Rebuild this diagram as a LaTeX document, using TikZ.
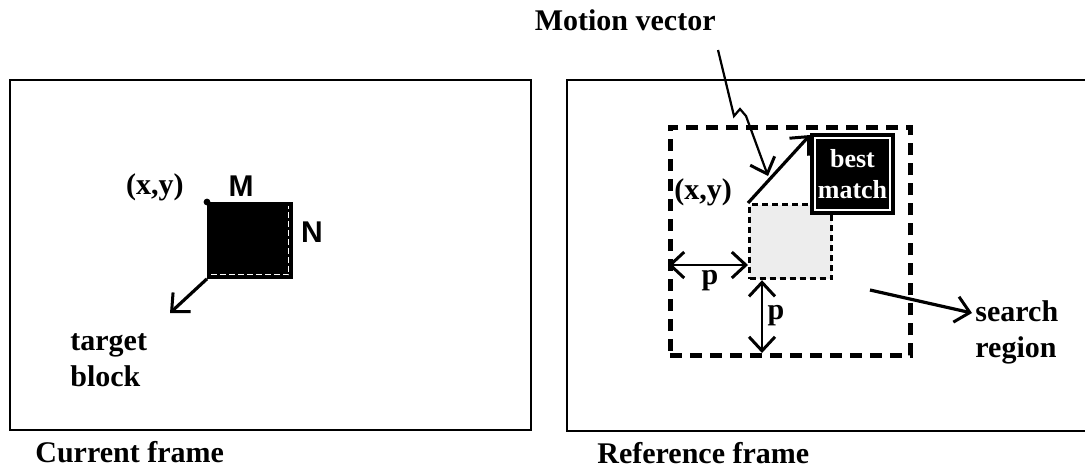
\documentclass[tikz,border=0pt]{standalone}
\usepackage{fontspec}
\setmainfont{Liberation Serif}
\setsansfont{Liberation Sans}
\usetikzlibrary{arrows.meta, positioning, calc}

\tikzset{
  frame/.style={draw, line width=1.4pt},
  lbl/.style={font=\fontsize{15}{18}\selectfont\bfseries, inner sep=0pt},
  sanslbl/.style={font=\fontsize{15}{18}\selectfont\sffamily\bfseries, inner sep=0pt},
  barb/.tip={Straight Barb[length=7pt, width=13pt, line width=1.5pt]},
  pointer/.style={line width=1.6pt, -barb},
  twoway/.style={line width=1.4pt, barb-barb},
  searchbox/.style={draw, line width=2.3pt, dash pattern=on 6pt off 4pt, inner sep=0pt, anchor=north west},
}

\begin{document}
\begin{tikzpicture}[x=0.5pt, y=-0.5pt]

\useasboundingbox (0,0) rectangle (1085,472);

% 1. CURRENT FRAME
\draw[frame] (10,80) rectangle (531,430);
\node[lbl, anchor=west] (curlbl) at (35,452) {Current frame};

% target block
\node[fill=black, draw=black, inner sep=0pt, minimum width=42.5pt, minimum height=38pt, anchor=north west] (tblk) at (207,202) {};
\draw[white, line width=0.4pt, dash pattern=on 3pt off 1.5pt]
  ([shift={(2pt,2pt)}]tblk.south west) -- ([shift={(-2pt,2pt)}]tblk.south east) -- ([shift={(-2pt,-2pt)}]tblk.north east);
\fill (tblk.north west) circle (1.7pt);
\node[lbl, anchor=east] (xyleft) at (184,187) {(x,y)};
\node[sanslbl] (mlbl) at (241,186) {M};
\node[sanslbl] (nlbl) at (312,232) {N};

\coordinate (tgtend) at (170,313);
\draw[pointer] (tblk.south west) -- (tgtend);
\node[lbl, anchor=north west, align=left] (tgtlbl) at (70,333) {target\\block};

% 2. REFERENCE FRAME
\draw[frame] (1090,80) -- (567,80) -- (567,431) -- (1090,431);
\node[lbl, anchor=west] (reflbl) at (597,453) {Reference frame};

% search region
\node[searchbox, minimum width=120pt, minimum height=114pt] (srch) at (668,125) {};

% block at the same place
\node[draw, fill=gray!14, line width=1.6pt, dash pattern=on 3pt off 2pt, inner sep=0pt,
  minimum width=41pt, minimum height=37pt, anchor=north west] (orig) at (748,203) {};

% best match
\node[fill=black, draw=black, line width=1pt, inner sep=0pt, minimum width=41.5pt, minimum height=40pt,
  anchor=north west, text=white, align=center, font=\fontsize{13}{15.5}\selectfont\bfseries] (best) at (810,133) {best\\match};
\draw[white, line width=0.7pt] ([shift={(2.5pt,2.5pt)}]best.south west) rectangle ([shift={(-2.5pt,-2.5pt)}]best.north east);

\node[lbl] (xyright) at (703,192) {(x,y)};

% motion vector
\draw[pointer] (orig.north west) -- ([yshift=-1pt]best.north west);
\node[lbl, anchor=east] (mvlbl) at (716,20) {Motion vector};
\coordinate (mvstart) at (718,50);
\coordinate (mvtip) at (768,176);
\draw[line width=1.1pt, -barb] (mvstart) -- (734,116) -- (740,109) -- (746,116) -- (mvtip);

% the two p
\coordinate (pleft) at (668,265);
\coordinate (pbottom) at (762,353);
\draw[twoway] (pleft) -- (pleft -| orig.west);
\draw[twoway] (pbottom |- orig.south) -- (pbottom);
\node[lbl] (plbl1) at (710,281) {p};
\node[lbl] (plbl2) at (776,316) {p};

% search region label
\coordinate (srchstart) at (870,290);
\coordinate (srchtip) at (972,313);
\draw[pointer] (srchstart) -- (srchtip);
\node[lbl, anchor=north west, align=left] (srchlbl) at (975,300) {search\\region};

\end{tikzpicture}
\end{document}
